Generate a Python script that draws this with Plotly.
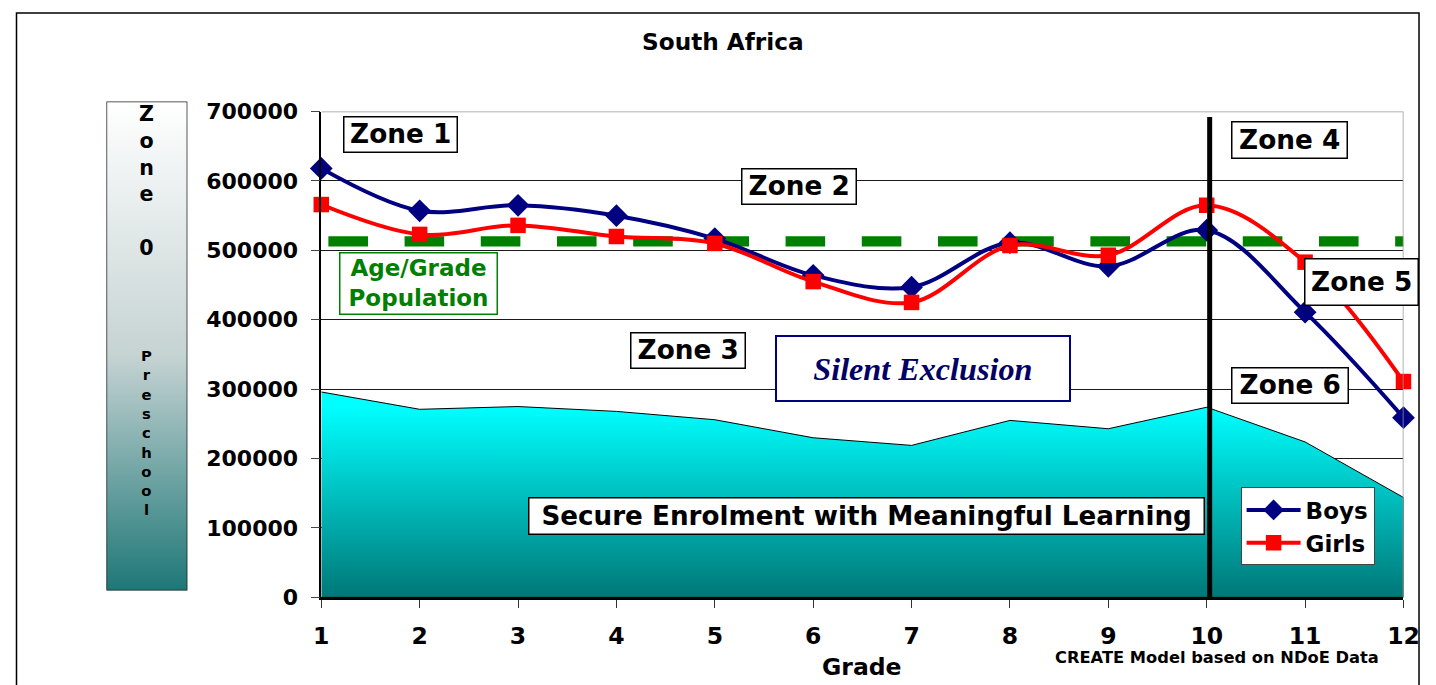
import plotly.graph_objects as go

# ---- data -------------------------------------------------------------
grades = [1, 2, 3, 4, 5, 6, 7, 8, 9, 10, 11, 12]
boys = [618000, 557000, 565000, 550000, 517000, 464000, 447000, 511000,
        477000, 529000, 411000, 259000]
girls = [566000, 523000, 536000, 520000, 510000, 455000, 425000, 507000,
         493000, 565000, 483000, 311000]
secure_enrolment = [296000, 271000, 275000, 268000, 256000, 230000, 219000,
                    255000, 243000, 274000, 224000, 144000]
age_grade_population = 513000
zone_divider_grade = 10.03
y_ticks = [0, 100000, 200000, 300000, 400000, 500000, 600000, 700000]

# ---- screen geometry ----------------------------------------------------
# Layout positions below are written in screen pixels; the page shows the
# figure inset by the body margin and at a slightly reduced scale, so they
# are mapped back to figure pixels and then to paper fractions.
W, H = 1436, 688
OX, OY = 6.5, 11.4
SX, SY = 0.984, 0.964


def fx(x):
    return (x - OX) / SX


def fy(y):
    return (y - OY) / SY


def px(x):
    return fx(x) / W


def py(y):
    return 1 - fy(y) / H


BOLD = "DejaVu Sans"
NAVY = "#000080"

fig = go.Figure()

# Secure enrolment area (closed polygon so the right edge is outlined too)
fig.add_trace(go.Scatter(
    x=grades + [grades[-1], grades[0]],
    y=secure_enrolment + [0, 0],
    mode="lines", fill="toself",
    line=dict(color="black", width=1),
    fillgradient=dict(type="vertical", start=0, stop=290000,
                      colorscale=[[0, "#006a6a"], [0.65, "#00caca"],
                                  [1, "#00ffff"]]),
    showlegend=False, hoverinfo="skip",
))

# Age/grade population reference line (dash lengths in figure pixels)
dash_on, dash_off, dash_lead = 39 / SX, 29 / SX, 7 / SX
fig.add_trace(go.Scatter(
    x=[grades[0], grades[-1]],
    y=[age_grade_population, age_grade_population],
    mode="lines",
    line=dict(color="#008000", width=10.4,
              dash=f"0px,{dash_lead:.1f}px,{dash_on:.1f}px,{dash_off:.1f}px"),
    showlegend=False, hoverinfo="skip",
))

fig.add_trace(go.Scatter(
    x=grades, y=boys, name="Boys", mode="lines+markers",
    line=dict(color=NAVY, width=4, shape="spline", smoothing=1.0),
    marker=dict(symbol="diamond", size=17.5, color=NAVY),
    cliponaxis=False,
))
fig.add_trace(go.Scatter(
    x=grades, y=girls, name="Girls", mode="lines+markers",
    line=dict(color="#ff0000", width=4, shape="spline", smoothing=1.0),
    marker=dict(symbol="square", size=15.5, color="#ff0000"),
    cliponaxis=False,
))

# Zone 0 gradient panel on its own hidden axes
fig.add_trace(go.Scatter(
    x=[0, 1, 1, 0, 0], y=[0, 0, 1, 1, 0], xaxis="x2", yaxis="y2",
    mode="lines", fill="toself",
    line=dict(color="#222222", width=1.5),
    fillgradient=dict(type="vertical", start=0, stop=1,
                      colorscale=[[0, "#117070"], [0.5, "#c6d3d3"],
                                  [1, "#ffffff"]]),
    showlegend=False, hoverinfo="skip",
))

frame_right = min(px(1428), (W - 1) / W)
frame_top = min(py(9.5), 1 - 1 / H)
shapes = [
    # chart frame
    dict(type="rect", xref="paper", yref="paper", x0=px(15), x1=frame_right,
         y0=-0.05, y1=frame_top, line=dict(color="black", width=1.5)),
    # plot-area border (top / right)
    dict(type="line", xref="x", yref="y", x0=grades[0], x1=grades[-1],
         y0=y_ticks[-1], y1=y_ticks[-1], line=dict(color="#999999", width=1.5)),
    dict(type="line", xref="x", yref="y", x0=grades[-1], x1=grades[-1],
         y0=0, y1=y_ticks[-1], line=dict(color="#999999", width=1.5)),
    # zone 4/5/6 divider
    dict(type="line", xref="x", yref="y", x0=zone_divider_grade,
         x1=zone_divider_grade, y0=0, y1=692000,
         line=dict(color="black", width=5)),
]


def box(text, left, top, right, bottom, size=26.3, color="black",
        border="black", bw=1.5, family=BOLD, style="normal"):
    """Bordered white label box given by its screen-pixel edges."""
    return dict(
        text=text, xref="paper", yref="paper",
        x=px((left + right) / 2), y=py((top + bottom) / 2),
        xanchor="center", yanchor="middle", showarrow=False,
        width=(right - left) / SX - bw, height=(bottom - top) / SY - bw,
        bgcolor="white", bordercolor=border, borderwidth=bw, borderpad=0,
        align="center", valign="middle",
        font=dict(family=family, size=size, color=color, weight="bold",
                  style=style),
    )


def label(text, x, y, size, yanchor="middle"):
    return dict(text=text, xref="paper", yref="paper", x=px(x), y=py(y),
                showarrow=False, xanchor="center", yanchor=yanchor,
                align="center",
                font=dict(family=BOLD, size=size, color="black",
                          weight="bold"))


annotations = [
    label("South Africa", 722, 40.5, 23.2),
    label("Grade", 861, 667, 23.5),
    label("CREATE Model based on NDoE Data", 1216, 657.5, 16.3),
    label("Z<br>o<br>n<br>e<br> <br>0", 145.5, 99.5, 20.6, yanchor="top"),
    label("P<br>r<br>e<br>s<br>c<br>h<br>o<br>o<br>l", 145.5, 344.8, 14.85,
          yanchor="top"),
    box("Zone 1", 343, 117, 455, 151),
    box("Zone 2", 742, 169, 855, 203),
    box("Zone 3", 630, 333, 743, 367),
    box("Zone 4", 1232, 122, 1346, 157),
    box("Zone 5", 1305, 259, 1417, 304),
    box("Zone 6", 1232, 368, 1347, 402),
    box("Silent Exclusion", 778, 337, 1067, 400, size=32.2, color="#000066",
        border=NAVY, bw=2, family="Liberation Serif", style="italic"),
    box("Secure Enrolment with Meaningful Learning", 533, 498, 1198, 533,
        size=26.2),
    box("Age/Grade<br>Population", 340, 253, 495, 312, size=23,
        color="#008000", border="#008000"),
]

fig.update_layout(
    width=W, height=H,
    margin=dict(l=0, r=0, t=0, b=0),
    paper_bgcolor="white", plot_bgcolor="rgba(0,0,0,0)",
    showlegend=True,
    legend=dict(x=px(1240), y=py(487), xanchor="left", yanchor="top",
                bgcolor="white", bordercolor="#444444", borderwidth=1,
                font=dict(family=BOLD, size=23, color="black", weight="bold"),
                tracegroupgap=0, itemwidth=54),
    xaxis=dict(domain=[px(320), px(1403)], range=[grades[0], grades[-1]],
               tickmode="array", tickvals=grades,
               ticktext=[str(g) for g in grades],
               showgrid=False, zeroline=False,
               showline=True, linecolor="black", linewidth=2.5,
               ticks="outside", ticklen=8, tickcolor="#333333", tickwidth=1,
               ticklabelstandoff=8,
               tickfont=dict(family=BOLD, size=23.5, color="black",
                             weight="bold")),
    yaxis=dict(domain=[py(597), py(111)], range=[0, y_ticks[-1]],
               tickmode="array", tickvals=y_ticks,
               ticktext=[str(v) for v in y_ticks],
               showgrid=True, gridcolor="#1a1a1a", gridwidth=1,
               zeroline=False, showline=True, linecolor="black", linewidth=1.5,
               ticks="outside", ticklen=9, tickcolor="#444444", tickwidth=1,
               ticklabelstandoff=8,
               tickfont=dict(family=BOLD, size=22, color="black",
                             weight="bold")),
    xaxis2=dict(domain=[px(105), px(186)], range=[0, 1], visible=False,
                fixedrange=True),
    yaxis2=dict(domain=[py(590), py(101)], range=[0, 1], visible=False,
                fixedrange=True),
    shapes=shapes,
    annotations=annotations,
)

fig.write_html("out.html")
